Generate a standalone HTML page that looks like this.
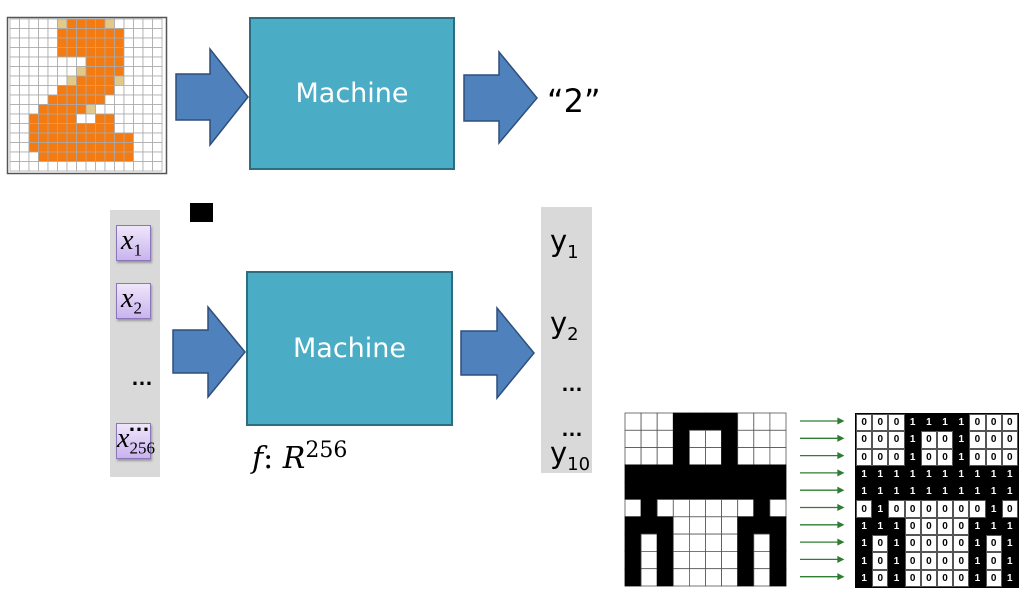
<!DOCTYPE html>
<html><head><meta charset="utf-8"><style>
body{margin:0;width:1024px;height:597px;background:#fff;position:relative;overflow:hidden;font-family:"Liberation Sans",sans-serif}
.abs{position:absolute}
.mach{position:absolute;background:#4bacc6;border:2px solid #2c6e80;box-sizing:border-box;color:#fff;font-family:"DejaVu Sans","Liberation Sans",sans-serif;font-size:27px;display:flex;align-items:center;justify-content:center}
.xb{position:absolute;left:116px;width:35px;height:36px;background:linear-gradient(#efe6fb,#c9b4ee);border:1px solid #8a76b8;box-sizing:border-box;box-shadow:1px 2px 2px #999;font-family:"Liberation Serif",serif;font-style:italic;font-size:28px;line-height:30px;padding-left:4px;white-space:nowrap}
.xb sub{font-style:normal;font-size:17px}
.y{position:absolute;left:550px;font-family:"DejaVu Sans",sans-serif;font-size:29px}
.y sub{font-size:18px}
.dots{position:absolute;font-size:22px;font-weight:bold;letter-spacing:-1px}
#bg{position:absolute;left:855px;top:413px;display:grid;grid-template-columns:repeat(10,16.2px);grid-template-rows:repeat(10,17.3px);border:1px solid #000;background:#000}
#bg i{font-style:normal;font-weight:bold;font-size:10px;display:flex;align-items:center;justify-content:center;box-sizing:border-box}
#bg i.z{background:#fff;color:#000;border:1px solid #555}
#bg i.o{background:#000;color:#fff}
</style></head><body>
<svg class="abs" style="left:0;top:0" width="1024" height="597">
<g id="og"></g>
<rect x="7.5" y="17.5" width="159" height="156" fill="none" stroke="#555" stroke-width="1.5"/>
<g fill="#4f81bd" stroke="#2f4f7a" stroke-width="1.5">
<polygon points="176,74 210,74 210,49 248,97 210,145 210,120 176,120"/>
<polygon points="464,75 499,75 499,52 537,98 499,143 499,121 464,121"/>
<polygon points="173,330 208,330 208,307 245,352 208,397 208,373 173,373"/>
<polygon points="461,331 497,331 497,308 534,353 497,398 497,375 461,375"/>
</g>
<rect x="110" y="210" width="50" height="267" fill="#d9d9d9"/>
<rect x="541" y="207" width="51" height="266" fill="#d9d9d9"/>
<rect x="190" y="203" width="23" height="19" fill="#000"/>
<g id="lg"></g>
<g stroke="#2e7d32" stroke-width="1.3" fill="#2e7d32" id="ar"></g>
</svg>
<div class="mach" style="left:249px;top:17px;width:206px;height:153px">Machine</div>
<div class="mach" style="left:246px;top:271px;width:207px;height:155px">Machine</div>
<div class="abs" style="left:547px;top:82px;font-family:'DejaVu Sans',sans-serif;font-size:32px">“2”</div>
<div class="xb" style="top:225px">x<sub>1</sub></div>
<div class="xb" style="top:283px">x<sub>2</sub></div>
<div class="dots" style="left:131px;top:365px">…</div>
<div class="xb" style="top:423px;padding-left:0">x<sub>256</sub></div>
<div class="dots" style="left:128px;top:411px">…</div>
<div class="y" style="top:224px">y<sub>1</sub></div>
<div class="y" style="top:306px">y<sub>2</sub></div>
<div class="dots" style="left:561px;top:371px">…</div>
<div class="dots" style="left:561px;top:416px">…</div>
<div class="y" style="top:436px">y<sub>10</sub></div>
<div class="abs" style="left:252px;top:438px;font-family:'DejaVu Serif',serif;font-style:italic;font-size:30px">f<span style="font-style:normal">:</span> R<sup style="font-style:normal;font-size:22px">256</sup></div>
<div id="bg">
<i class=z>0</i><i class=z>0</i><i class=z>0</i><i class=o>1</i><i class=o>1</i><i class=o>1</i><i class=o>1</i><i class=z>0</i><i class=z>0</i><i class=z>0</i>
<i class=z>0</i><i class=z>0</i><i class=z>0</i><i class=o>1</i><i class=z>0</i><i class=z>0</i><i class=o>1</i><i class=z>0</i><i class=z>0</i><i class=z>0</i>
<i class=z>0</i><i class=z>0</i><i class=z>0</i><i class=o>1</i><i class=z>0</i><i class=z>0</i><i class=o>1</i><i class=z>0</i><i class=z>0</i><i class=z>0</i>
<i class=o>1</i><i class=o>1</i><i class=o>1</i><i class=o>1</i><i class=o>1</i><i class=o>1</i><i class=o>1</i><i class=o>1</i><i class=o>1</i><i class=o>1</i>
<i class=o>1</i><i class=o>1</i><i class=o>1</i><i class=o>1</i><i class=o>1</i><i class=o>1</i><i class=o>1</i><i class=o>1</i><i class=o>1</i><i class=o>1</i>
<i class=z>0</i><i class=o>1</i><i class=z>0</i><i class=z>0</i><i class=z>0</i><i class=z>0</i><i class=z>0</i><i class=z>0</i><i class=o>1</i><i class=z>0</i>
<i class=o>1</i><i class=o>1</i><i class=o>1</i><i class=z>0</i><i class=z>0</i><i class=z>0</i><i class=z>0</i><i class=o>1</i><i class=o>1</i><i class=o>1</i>
<i class=o>1</i><i class=z>0</i><i class=o>1</i><i class=z>0</i><i class=z>0</i><i class=z>0</i><i class=z>0</i><i class=o>1</i><i class=z>0</i><i class=o>1</i>
<i class=o>1</i><i class=z>0</i><i class=o>1</i><i class=z>0</i><i class=z>0</i><i class=z>0</i><i class=z>0</i><i class=o>1</i><i class=z>0</i><i class=o>1</i>
<i class=o>1</i><i class=z>0</i><i class=o>1</i><i class=z>0</i><i class=z>0</i><i class=z>0</i><i class=z>0</i><i class=o>1</i><i class=z>0</i><i class=o>1</i>
</div>
<script>
var NS="http://www.w3.org/2000/svg";
function r(g,x,y,w,h,f,s){var e=document.createElementNS(NS,"rect");e.setAttribute("x",x);e.setAttribute("y",y);e.setAttribute("width",w);e.setAttribute("height",h);e.setAttribute("fill",f);if(s){e.setAttribute("stroke",s);e.setAttribute("stroke-width","0.8");}g.appendChild(e);}
var O={0:[6,9],1:[5,11],2:[5,11],3:[5,11],4:[8,11],5:[8,11],6:[7,10],7:[5,10],8:[4,9],9:[3,7],10:[2,6],11:[2,10],12:[2,12],13:[2,12],14:[3,12]};
var T=[[0,5],[0,10],[5,7],[6,6],[6,11],[9,8]];
var extra={10:[9,10]};
var og=document.getElementById("og");var cw=9.5,ch=9.5,ox=10,oy=19;
for(var i=0;i<16;i++)for(var j=0;j<16;j++){var f="#fff";if(O[i]&&j>=O[i][0]&&j<=O[i][1])f="#f47a12";if(extra[i]&&j>=extra[i][0]&&j<=extra[i][1])f="#f47a12";T.forEach(function(t){if(t[0]==i&&t[1]==j)f="#e2c98a";});r(og,ox+j*cw,oy+i*ch,cw,ch,f,"#aaa");}
var M=["0001111000","0001001000","0001001000","1111111111","1111111111","0100000010","1110000111","1010000101","1010000101","1010000101"];
var lg=document.getElementById("lg"),ar=document.getElementById("ar");
for(var i=0;i<10;i++){for(var j=0;j<10;j++){var b=M[i][j]=="1";r(lg,625+j*16.1,413+i*17.3,16.1,17.3,b?"#000":"#fff",b?"#000":"#555");}
var y=421+i*17.3;var l=document.createElementNS(NS,"line");l.setAttribute("x1",800);l.setAttribute("x2",838);l.setAttribute("y1",y);l.setAttribute("y2",y);ar.appendChild(l);
var p=document.createElementNS(NS,"polygon");p.setAttribute("points",(838)+","+(y-2.5)+" 843,"+y+" 838,"+(y+2.5));ar.appendChild(p);}
</script>
</body></html>
